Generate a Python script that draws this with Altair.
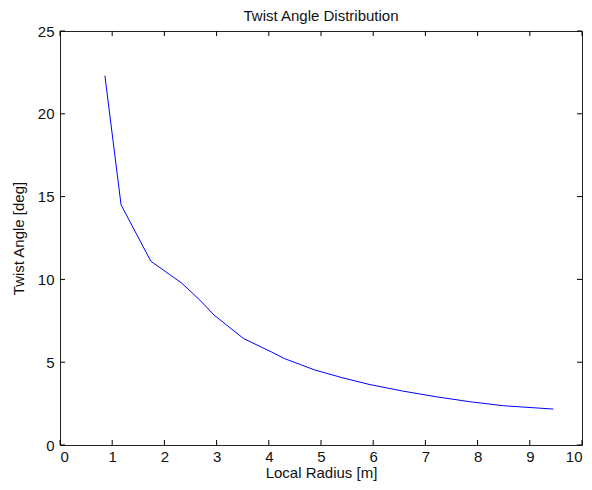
import altair as alt
import pandas as pd

radius = [0.86, 1.17, 1.74, 2.33, 2.68, 2.95, 3.52, 4.05, 4.30, 4.88, 5.40, 5.92, 6.56, 7.21, 7.86, 8.50, 9.45]
twist = [22.3, 14.5, 11.1, 9.78, 8.75, 7.85, 6.42, 5.62, 5.22, 4.53, 4.07, 3.66, 3.26, 2.91, 2.61, 2.37, 2.17]

x_ticks = [0, 1, 2, 3, 4, 5, 6, 7, 8, 9, 10]
y_ticks = [0, 5, 10, 15, 20, 25]

W, H = 522, 414
FONT = "Liberation Sans"
FS = 15

df = pd.DataFrame({"r": radius, "t": twist})
xt = pd.DataFrame({"v": x_ticks})
yt = pd.DataFrame({"v": y_ticks})

xscale = alt.Scale(domain=[0, 10], nice=False, zero=False)
yscale = alt.Scale(domain=[0, 25], nice=False, zero=False)

axis_common = dict(ticks=False, domain=False, grid=False, labelFont=FONT, titleFont=FONT,
                   labelFontSize=FS, titleFontSize=FS, labelColor="#111111",
                   titleColor="#111111", titleFontWeight="normal")

line = alt.Chart(df).mark_line(color="#0000FF", strokeWidth=1).encode(
    x=alt.X("r:Q", scale=xscale,
            axis=alt.Axis(values=x_ticks, labelPadding=4, title="Local Radius [m]",
                          titlePadding=1, **axis_common)),
    y=alt.Y("t:Q", scale=yscale,
            axis=alt.Axis(values=y_ticks, labelPadding=6, title="Twist Angle [deg]",
                          titlePadding=11, **axis_common)),
)

tl = 5
bottom_ticks = alt.Chart(xt).mark_rule(color="black").encode(
    x=alt.X("v:Q", scale=xscale), y=alt.value(H), y2=alt.value(H - tl))
top_ticks = alt.Chart(xt).mark_rule(color="black").encode(
    x=alt.X("v:Q", scale=xscale), y=alt.value(0), y2=alt.value(tl))
left_ticks = alt.Chart(yt).mark_rule(color="black").encode(
    y=alt.Y("v:Q", scale=yscale), x=alt.value(0), x2=alt.value(tl))
right_ticks = alt.Chart(yt).mark_rule(color="black").encode(
    y=alt.Y("v:Q", scale=yscale), x=alt.value(W), x2=alt.value(W - tl))

chart = alt.layer(line, bottom_ticks, top_ticks, left_ticks, right_ticks).properties(
    width=W, height=H,
    title=alt.Title("Twist Angle Distribution", fontSize=FS, fontWeight="normal",
                    font=FONT, color="#111111", offset=0),
    autosize=alt.AutoSizeParams(type="none"),
    padding={"left": 52, "top": 23, "right": 2, "bottom": 37},
    background="white",
).configure_view(stroke="#222222", strokeWidth=1, strokeOpacity=1)

chart.save("out.html", embed_options={"renderer": "svg", "actions": False})
